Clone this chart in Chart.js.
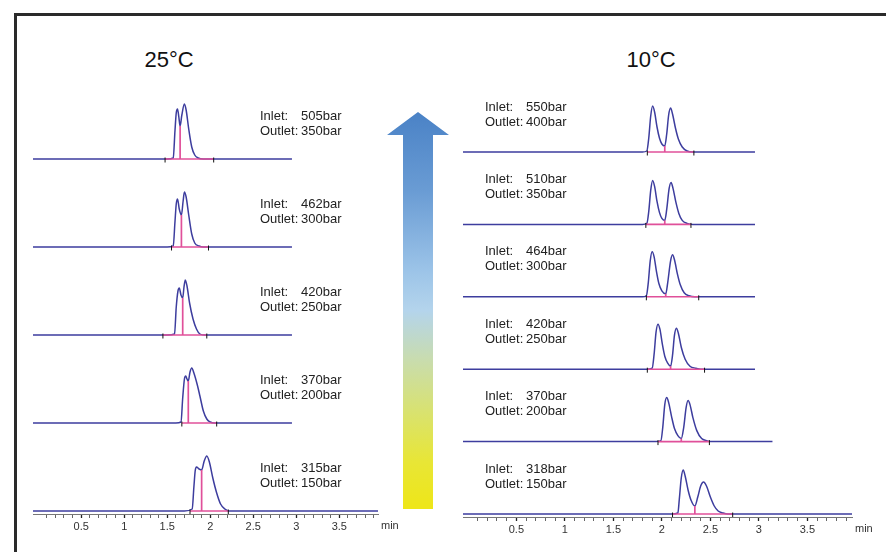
<!DOCTYPE html>
<html>
<head>
<meta charset="utf-8">
<script src="https://cdn.jsdelivr.net/npm/chart.js@4.4.1/dist/chart.umd.min.js"></script>
<style>
  body { margin: 0; width: 886px; height: 552px; overflow: hidden; position: relative; background: #fff;
         font-family: "Liberation Sans", Arial, sans-serif; }
  .frame { position: absolute; left: 14px; top: 13px; width: 900px; height: 600px;
           border-left: 3px solid #2a2a2a; border-top: 3px solid #2a2a2a; }
  canvas { position: absolute; top: 0; }
  #left { left: 0; }
  #right { left: 443px; }
  .title { position: absolute; top: 47px; width: 120px; text-align: center; font-size: 22px; color: #111; line-height: 26px; }
  .arrow { position: absolute; left: 387px; top: 112px; width: 62px; height: 397px;
           background: linear-gradient(to bottom, #4a82c6 0%, #6a9cd4 20%, #9cc4e8 40%, #b4d4ec 50%, #c8dcb0 62%, #d8e272 75%, #e8e636 88%, #eee618 100%);
           clip-path: polygon(31px 0, 62px 23px, 46px 23px, 46px 397px, 16px 397px, 16px 23px, 0 23px); }
</style>
</head>
<body>
<div class="frame"></div>
<div class="title" style="left:109px">25°C</div>
<div class="title" style="left:591px">10°C</div>
<canvas id="left" width="443" height="552"></canvas>
<canvas id="right" width="443" height="552"></canvas>
<div class="arrow"></div>
<script>
// ---- data (time in min, signal in arbitrary units) ----
// 25°C, top to bottom
const c25_505 = [[-0.06,0],[1.5,0],[1.57,1],[1.59,28],[1.605,46],[1.62,50],[1.635,42],[1.65,33],[1.67,44],[1.70,55],[1.72,49],[1.75,30],[1.785,12],[1.82,4],[1.86,1],[1.92,0],[2.95,0]];
const c25_462 = [[-0.06,0],[1.5,0],[1.57,1],[1.59,25],[1.605,43],[1.62,48],[1.64,38],[1.665,32],[1.685,46],[1.70,55],[1.72,50],[1.75,32],[1.785,13],[1.82,4],[1.87,1],[1.92,0],[2.95,0]];
const c25_420 = [[-0.06,0],[1.5,0],[1.585,1],[1.605,28],[1.625,44],[1.64,47],[1.66,40],[1.68,37],[1.695,48],[1.71,55],[1.73,49],[1.76,32],[1.8,16],[1.84,6],[1.88,1],[1.93,0],[2.95,0]];
const c25_370 = [[-0.06,0],[1.6,0],[1.66,1],[1.68,25],[1.70,44],[1.715,47],[1.73,44],[1.745,42],[1.765,51],[1.785,55],[1.81,50],[1.85,38],[1.88,27],[1.92,12],[1.96,4],[2.0,1],[2.05,0],[2.95,0]];
const c25_315 = [[-0.06,0],[1.7,0],[1.79,2],[1.81,24],[1.825,40],[1.84,44],[1.87,42],[1.90,41],[1.93,50],[1.96,55],[1.99,49],[2.03,33],[2.075,18],[2.12,7],[2.17,2],[2.22,0],[3.95,0]];
const inlet25 = [505, 462, 420, 370, 315];
const outlet25 = [350, 300, 250, 200, 150];
const intStart25 = [1.475, 1.55, 1.45, 1.67, 1.765];
const intEnd25 = [2.04, 1.98, 1.96, 2.075, 2.21];
const drop25 = [1.65, 1.665, 1.68, 1.745, 1.90];

// 10°C, top to bottom
const c10_550 = [[-0.05,0],[1.8,0],[1.845,1],[1.865,14],[1.885,36],[1.905,46],[1.925,40],[1.95,25],[1.975,14],[2.0,8],[2.03,6],[2.05,18],[2.07,37],[2.09,44],[2.11,38],[2.14,24],[2.17,13],[2.21,5],[2.26,1],[2.32,0],[2.96,0]];
const c10_510 = [[-0.05,0],[1.8,0],[1.845,1],[1.865,13],[1.885,34],[1.905,44],[1.925,38],[1.95,23],[1.975,12],[2.0,6],[2.03,4],[2.05,15],[2.075,36],[2.095,42],[2.115,36],[2.145,22],[2.175,11],[2.21,4],[2.26,1],[2.32,0],[2.96,0]];
const c10_464 = [[-0.05,0],[1.8,0],[1.84,1],[1.86,14],[1.88,36],[1.9,45],[1.92,40],[1.945,25],[1.97,13],[2.0,6],[2.04,3],[2.06,14],[2.09,36],[2.11,42],[2.13,37],[2.16,23],[2.19,12],[2.23,4],[2.28,1],[2.34,0],[2.96,0]];
const c10_420 = [[-0.05,0],[1.85,0],[1.9,1],[1.92,15],[1.94,37],[1.96,45],[1.98,40],[2.005,25],[2.03,13],[2.06,6],[2.09,3],[2.11,14],[2.13,34],[2.15,41],[2.17,36],[2.2,22],[2.24,10],[2.29,3],[2.35,1],[2.4,0],[2.96,0]];
const c10_370 = [[-0.05,0],[1.94,0],[1.99,1],[2.01,15],[2.03,37],[2.05,44],[2.07,39],[2.1,25],[2.13,13],[2.165,6],[2.2,3],[2.225,14],[2.25,34],[2.27,41],[2.29,37],[2.32,24],[2.36,11],[2.41,3],[2.46,1],[2.5,0],[3.14,0]];
const c10_318 = [[-0.05,0],[2.1,0],[2.165,1],[2.18,15],[2.2,36],[2.22,44],[2.24,38],[2.27,24],[2.3,14],[2.34,8],[2.37,17],[2.4,28],[2.43,32],[2.46,28],[2.5,17],[2.54,8],[2.58,3],[2.63,1],[2.68,0],[3.96,0]];
const inlet10 = [550, 510, 464, 420, 370, 318];
const outlet10 = [400, 350, 300, 250, 200, 150];
const intStart10 = [1.85, 1.835, 1.84, 1.85, 1.96, 2.11];
const intEnd10 = [2.33, 2.3, 2.38, 2.44, 2.49, 2.73];
const drop10 = [2.03, 2.03, 2.04, 2.09, 2.2, 2.34];

// x axis ticks
const majorTicks = [0.5, 1, 1.5, 2, 2.5, 3, 3.5];
const minorTicks = [];
for (let i = 1; i <= 39; i++) minorTicks.push(i / 10);

const traceColor = '#3d3d9e';
const pinkColor = '#e0509a';

// build datasets for one panel; traces are listed top to bottom
function buildDatasets(traces, spacing, starts, ends, drops) {
    const sets = [];
    traces.forEach((tr, k) => {
        const off = (traces.length - 1 - k) * spacing;
        sets.push({
            data: tr.map(p => ({ x: p[0], y: p[1] + off })),
            borderColor: traceColor,
            borderWidth: 1.5,
            pointRadius: 0,
            cubicInterpolationMode: 'monotone',
            order: 3
        });
        const valley = tr.find(p => p[0] === drops[k]);
        const vh = valley ? valley[1] : 0;
        // integration baseline
        sets.push({
            data: [{ x: starts[k], y: off }, { x: ends[k], y: off }],
            borderColor: pinkColor, borderWidth: 1.6, pointRadius: 0, order: 2
        });
        // drop line at the valley
        sets.push({
            data: [{ x: drops[k], y: off }, { x: drops[k], y: off + vh }],
            borderColor: pinkColor, borderWidth: 1.7, pointRadius: 0, order: 2
        });
        // small black marks at integration start / end
        sets.push({
            data: [{ x: starts[k], y: off - 1 }, { x: ends[k], y: off - 1 }],
            showLine: false,
            pointStyle: 'line', rotation: 90, pointRadius: 2.5,
            pointBorderColor: '#111', pointBorderWidth: 1, order: 1
        });
    });
    return sets;
}

// Inlet / Outlet labels and the "min" unit
function labelPlugin(inlets, outlets, spacing, labelX, dy1, dy2) {
    return {
        id: 'pressureLabels',
        afterDatasetsDraw(chart) {
            const ctx = chart.ctx;
            const y = chart.scales.y;
            const x = chart.scales.x;
            ctx.save();
            ctx.fillStyle = '#222';
            ctx.font = '13px "Liberation Sans", Arial, sans-serif';
            ctx.textBaseline = 'middle';
            ctx.textAlign = 'left';
            inlets.forEach((v, k) => {
                const yb = y.getPixelForValue((inlets.length - 1 - k) * spacing);
                ctx.fillText('Inlet:', labelX, yb - dy1);
                ctx.fillText(v + 'bar', labelX + 41, yb - dy1);
                ctx.fillText('Outlet:', labelX, yb - dy2);
                ctx.fillText(outlets[k] + 'bar', labelX + 41, yb - dy2);
            });
            ctx.font = '11px "Liberation Sans", Arial, sans-serif';
            ctx.fillStyle = '#333';
            ctx.fillText('min', x.right + 3, x.top + 12);
            ctx.restore();
        }
    };
}

function makeChart(id, sets, xMin, xMax, yMax, pad, axisHeight, plugin) {
    return new Chart(document.getElementById(id), {
        type: 'line',
        data: { datasets: sets },
        options: {
            responsive: false,
            animation: false,
            devicePixelRatio: 1,
            layout: { padding: pad },
            plugins: { legend: { display: false }, tooltip: { enabled: false } },
            scales: {
                x: {
                    type: 'linear',
                    min: xMin,
                    max: xMax,
                    afterBuildTicks: s => { s.ticks = minorTicks.map(v => ({ value: v })); },
                    afterFit: s => { s.height = axisHeight; },
                    border: { display: true, color: '#777', width: 1 },
                    grid: {
                        drawOnChartArea: false,
                        drawTicks: true,
                        tickLength: 4,
                        tickColor: c => majorTicks.includes(c.tick.value) ? '#222' : '#666',
                        tickWidth: c => majorTicks.includes(c.tick.value) ? 1.3 : 1
                    },
                    ticks: {
                        autoSkip: false,
                        maxRotation: 0,
                        padding: 2,
                        color: '#333',
                        font: { size: 11, family: '"Liberation Sans", Arial, sans-serif' },
                        callback: v => majorTicks.includes(v) ? String(v) : ''
                    }
                },
                y: { type: 'linear', display: false, min: -3, max: yMax }
            }
        },
        plugins: [plugin]
    });
}

const traces25 = [c25_505, c25_462, c25_420, c25_370, c25_315];
const traces10 = [c10_550, c10_510, c10_464, c10_420, c10_370, c10_318];

makeChart('left', buildDatasets(traces25, 88, intStart25, intEnd25, drop25),
    -0.06, 3.95, 431, { left: 33, right: 65, top: 80, bottom: 0 }, 38,
    labelPlugin(inlet25, outlet25, 88, 260, 43, 28));

makeChart('right', buildDatasets(traces10, 72.4, intStart10, intEnd10, drop10),
    -0.05, 3.96, 434, { left: 20, right: 34, top: 80, bottom: 0 }, 35,
    labelPlugin(inlet10, outlet10, 72.4, 42, 45, 30));
</script>
</body>
</html>
